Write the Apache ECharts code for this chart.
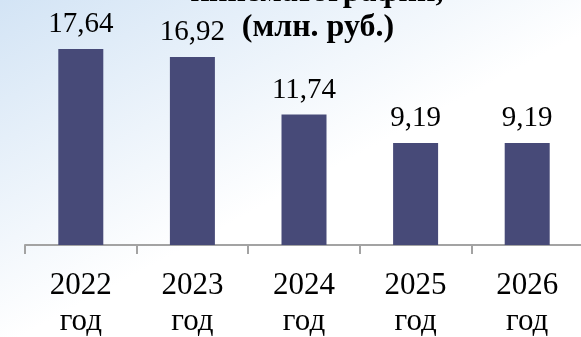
<!DOCTYPE html>
<html><head><meta charset="utf-8">
<script src="https://cdn.jsdelivr.net/npm/echarts@6/dist/echarts.min.js"></script>
<style>html,body{margin:0;padding:0;background:#fff}#c{width:581px;height:337px}</style>
</head><body><div id="c"></div>
<script>
const categories = ['2022\nгод', '2023\nгод', '2024\nгод', '2025\nгод', '2026\nгод'];
const values = [17.64, 16.92, 11.74, 9.19, 9.19];
const titleLines = ['кинематографии,', '(млн. руб.)'];

const chart = echarts.init(document.getElementById('c'));
const serif = '"Liberation Serif", "Times New Roman", serif';
chart.setOption({
  animation: false,
  backgroundColor: new echarts.graphic.LinearGradient(0, 0, 0.25, 0.8, [
    {offset: 0, color: '#d3e4f5'},
    {offset: 1, color: '#ffffff'}
  ]),
  graphic: [
    {type: 'text', z: 10, silent: true, x: 317, y: -23,
     style: {text: titleLines[0], textAlign: 'center', textVerticalAlign: 'top',
             font: 'bold 32px ' + serif, fill: '#000'}},
    {type: 'text', z: 10, silent: true, x: 318, y: 12,
     style: {text: titleLines[1], textAlign: 'center', textVerticalAlign: 'top',
             font: 'bold 32px ' + serif, fill: '#000'}}
  ],
  grid: {left: 25, top: 22.8, width: 558, height: 222.2, containLabel: false, outerBoundsMode: 'none'},
  xAxis: {
    type: 'category', data: categories,
    axisLine: {show: true, lineStyle: {color: '#a3a3a3', width: 2}},
    axisTick: {show: true, length: 9, lineStyle: {color: '#a3a3a3', width: 2}},
    axisLabel: {color: '#000', fontFamily: serif, fontSize: 31, lineHeight: 36, margin: 23, interval: 0}
  },
  yAxis: {type: 'value', min: 0, max: 20, show: false, splitLine: {show: false}},
  series: [{
    type: 'bar', data: values, barWidth: 45,
    itemStyle: {color: '#474a78'},
    label: {show: true, position: 'top', distance: 10, color: '#000', fontFamily: serif, fontSize: 29,
            formatter: p => p.value.toFixed(2).replace('.', ',')}
  }]
});
</script></body></html>
